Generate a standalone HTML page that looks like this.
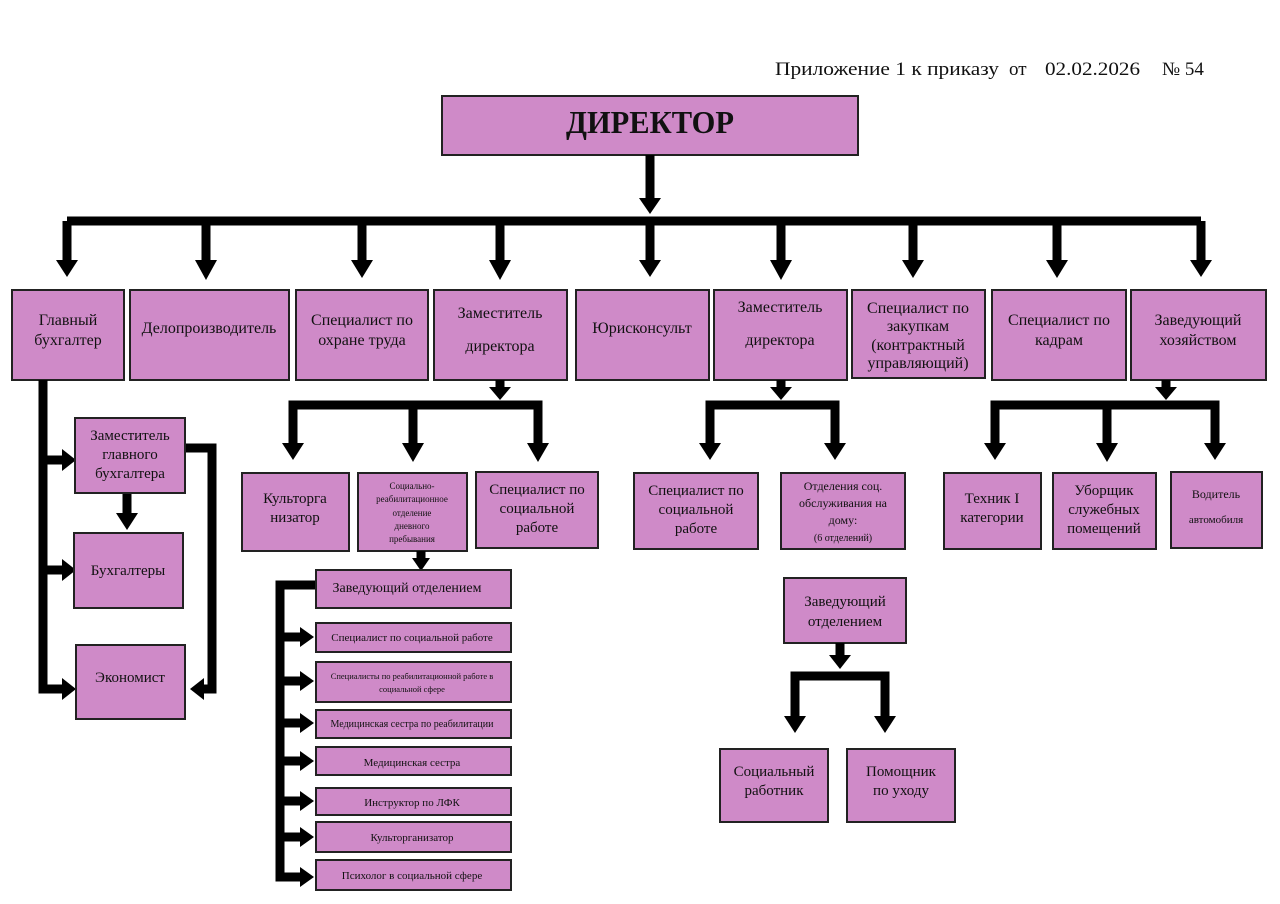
<!DOCTYPE html>
<html><head><meta charset="utf-8"><style>
html,body{margin:0;padding:0;background:#fff;}
svg{display:block;}
text{font-family:"Liberation Serif",serif;fill:#111;}
.b{fill:#cf8ac8;stroke:#222;stroke-width:2;}
.l{stroke:#000;stroke-width:9;fill:none;}
.h{fill:#000;}
</style></head><body>
<svg width="1280" height="904" viewBox="0 0 1280 904" xmlns="http://www.w3.org/2000/svg">
<text x="775" y="75" font-size="19" textLength="224" lengthAdjust="spacingAndGlyphs">Приложение 1 к приказу</text>
<text x="1009" y="75" font-size="19">от</text>
<text x="1045" y="75" font-size="19" textLength="95" lengthAdjust="spacingAndGlyphs">02.02.2026</text>
<text x="1162" y="75" font-size="19">№ 54</text>
<rect class="b" x="442" y="96" width="416" height="59"/>
<text x="650" y="133" font-size="32" font-weight="bold" text-anchor="middle" textLength="168" lengthAdjust="spacingAndGlyphs">ДИРЕКТОР</text>
<path class="l" d="M650 155V200"/><polygon class="h" points="639,198 661,198 650,214"/>
<path class="l" d="M67 221H1201 M67 221V262 M206 221V262 M362 221V262 M500 221V262 M650 221V262 M781 221V262 M913 221V262 M1057 221V262 M1201 221V262"/>
<g class="h">
<polygon points="56,260 78,260 67,277"/><polygon points="195,260 217,260 206,280"/><polygon points="351,260 373,260 362,278"/><polygon points="489,260 511,260 500,280"/><polygon points="639,260 661,260 650,277"/><polygon points="770,260 792,260 781,280"/><polygon points="902,260 924,260 913,278"/><polygon points="1046,260 1068,260 1057,278"/><polygon points="1190,260 1212,260 1201,277"/>
</g>
<g font-size="16" text-anchor="middle">
<rect class="b" x="12" y="290" width="112" height="90"/><text x="68" y="325">Главный</text><text x="68" y="345">бухгалтер</text>
<rect class="b" x="130" y="290" width="159" height="90"/><text x="209" y="333">Делопроизводитель</text>
<rect class="b" x="296" y="290" width="132" height="90"/><text x="362" y="325">Специалист по</text><text x="362" y="345">охране труда</text>
<rect class="b" x="434" y="290" width="133" height="90"/><text x="500" y="318">Заместитель</text><text x="500" y="351">директора</text>
<rect class="b" x="576" y="290" width="133" height="90"/><text x="642" y="333">Юрисконсульт</text>
<rect class="b" x="714" y="290" width="133" height="90"/><text x="780" y="312">Заместитель</text><text x="780" y="345">директора</text>
<rect class="b" x="852" y="290" width="133" height="88"/><text x="918" y="313">Специалист по</text><text x="918" y="331">закупкам</text><text x="918" y="350">(контрактный</text><text x="918" y="368">управляющий)</text>
<rect class="b" x="992" y="290" width="134" height="90"/><text x="1059" y="325">Специалист по</text><text x="1059" y="345">кадрам</text>
<rect class="b" x="1131" y="290" width="135" height="90"/><text x="1198" y="325">Заведующий</text><text x="1198" y="345">хозяйством</text>
</g>
<path class="l" d="M43 380V689H64 M43 460H64 M43 570H64 M185 448H212V689H200 M127 493V515"/>
<g class="h"><polygon points="62,449 62,471 76,460"/><polygon points="62,559 62,581 76,570"/><polygon points="62,678 62,700 76,689"/><polygon points="204,678 204,700 190,689"/><polygon points="116,513 138,513 127,530"/></g>
<g font-size="15" text-anchor="middle">
<rect class="b" x="75" y="418" width="110" height="75"/><text x="130" y="440">Заместитель</text><text x="130" y="459">главного</text><text x="130" y="478">бухгалтера</text>
<rect class="b" x="74" y="533" width="109" height="75"/><text x="128" y="575">Бухгалтеры</text>
<rect class="b" x="76" y="645" width="109" height="74"/><text x="130" y="682">Экономист</text>
</g>
<path class="l" d="M500 380V390 M293 445V405H538V445 M413 405V445"/>
<g class="h"><polygon points="489,387 511,387 500,400"/><polygon points="282,443 304,443 293,460"/><polygon points="402,443 424,443 413,462"/><polygon points="527,443 549,443 538,462"/></g>
<rect class="b" x="242" y="473" width="107" height="78"/><text x="295" y="503" font-size="15" text-anchor="middle">Культорга</text><text x="295" y="522" font-size="15" text-anchor="middle">низатор</text>
<rect class="b" x="358" y="473" width="109" height="78"/>
<g font-size="9" text-anchor="middle"><text x="412" y="489">Социально-</text><text x="412" y="502">реабилитационное</text><text x="412" y="516">отделение</text><text x="412" y="529">дневного</text><text x="412" y="542">пребывания</text></g>
<rect class="b" x="476" y="472" width="122" height="76"/><text x="537" y="494" font-size="15" text-anchor="middle">Специалист по</text><text x="537" y="513" font-size="15" text-anchor="middle">социальной</text><text x="537" y="532" font-size="15" text-anchor="middle">работе</text>
<path class="l" d="M421 551V560"/><polygon class="h" points="412,558 430,558 421,571"/>
<path class="l" d="M316 585H280V877H302 M280 637H302 M280 681H302 M280 723H302 M280 761H302 M280 801H302 M280 837H302"/>
<g class="h"><polygon points="300,627 300,647 314,637"/><polygon points="300,671 300,691 314,681"/><polygon points="300,713 300,733 314,723"/><polygon points="300,751 300,771 314,761"/><polygon points="300,791 300,811 314,801"/><polygon points="300,827 300,847 314,837"/><polygon points="300,867 300,887 314,877"/></g>
<g text-anchor="middle">
<rect class="b" x="316" y="570" width="195" height="38"/><text x="407" y="592" font-size="14">Заведующий отделением</text>
<rect class="b" x="316" y="623" width="195" height="29"/><text x="412" y="641" font-size="11">Специалист по социальной работе</text>
<rect class="b" x="316" y="662" width="195" height="40"/><text x="412" y="679" font-size="8.5">Специалисты по реабилитационной работе в</text><text x="412" y="692" font-size="8.5">социальной сфере</text>
<rect class="b" x="316" y="710" width="195" height="28"/><text x="412" y="727" font-size="10">Медицинская сестра по  реабилитации</text>
<rect class="b" x="316" y="747" width="195" height="28"/><text x="412" y="766" font-size="11">Медицинская сестра</text>
<rect class="b" x="316" y="788" width="195" height="27"/><text x="412" y="806" font-size="11">Инструктор  по ЛФК</text>
<rect class="b" x="316" y="822" width="195" height="30"/><text x="412" y="841" font-size="11">Культорганизатор</text>
<rect class="b" x="316" y="860" width="195" height="30"/><text x="412" y="879" font-size="11">Психолог  в социальной сфере</text>
</g>
<path class="l" d="M781 380V390 M710 445V405H835V445"/>
<g class="h"><polygon points="770,387 792,387 781,400"/><polygon points="699,443 721,443 710,460"/><polygon points="824,443 846,443 835,460"/></g>
<rect class="b" x="634" y="473" width="124" height="76"/><text x="696" y="495" font-size="15" text-anchor="middle">Специалист по</text><text x="696" y="514" font-size="15" text-anchor="middle">социальной</text><text x="696" y="533" font-size="15" text-anchor="middle">работе</text>
<rect class="b" x="781" y="473" width="124" height="76"/>
<g font-size="12" text-anchor="middle"><text x="843" y="490">Отделения соц.</text><text x="843" y="507">обслуживания  на</text><text x="843" y="524">дому:</text><text x="843" y="541" font-size="10">(6 отделений)</text></g>
<path class="l" d="M1166 380V390 M995 445V405H1215V445 M1107 405V445"/>
<g class="h"><polygon points="1155,387 1177,387 1166,400"/><polygon points="984,443 1006,443 995,460"/><polygon points="1096,443 1118,443 1107,462"/><polygon points="1204,443 1226,443 1215,460"/></g>
<g font-size="15" text-anchor="middle">
<rect class="b" x="944" y="473" width="97" height="76"/><text x="992" y="503">Техник I</text><text x="992" y="522">категории</text>
<rect class="b" x="1053" y="473" width="103" height="76"/><text x="1104" y="495">Уборщик</text><text x="1104" y="514">служебных</text><text x="1104" y="533">помещений</text>
<rect class="b" x="1171" y="472" width="91" height="76"/><text x="1216" y="498" font-size="12">Водитель</text><text x="1216" y="523" font-size="11">автомобиля</text>
</g>
<rect class="b" x="784" y="578" width="122" height="65"/><text x="845" y="606" font-size="15" text-anchor="middle">Заведующий</text><text x="845" y="626" font-size="15" text-anchor="middle">отделением</text>
<path class="l" d="M840 643V657 M795 718V676H885V718"/>
<g class="h"><polygon points="829,655 851,655 840,669"/><polygon points="784,716 806,716 795,733"/><polygon points="874,716 896,716 885,733"/></g>
<rect class="b" x="720" y="749" width="108" height="73"/><text x="774" y="776" font-size="15" text-anchor="middle">Социальный</text><text x="774" y="795" font-size="15" text-anchor="middle">работник</text>
<rect class="b" x="847" y="749" width="108" height="73"/><text x="901" y="776" font-size="15" text-anchor="middle">Помощник</text><text x="901" y="795" font-size="15" text-anchor="middle">по уходу</text>
</svg>
</body></html>
